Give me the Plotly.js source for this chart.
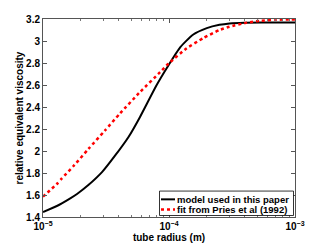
<!DOCTYPE html>
<html><head><meta charset="utf-8">
<script src="https://cdn.plot.ly/plotly-3.0.1.min.js"></script>
<style>body{margin:0;padding:0;background:#fff}#plot{width:326px;height:245px}</style>
</head><body><div id="plot"></div>
<script>
var modelLogRadius = [-5.0, -4.89, -4.79, -4.73, -4.64, -4.53, -4.43, -4.32, -4.23, -4.10, -4.005, -3.91, -3.81, -3.70, -3.60, -3.52, -3.40, -3.25, -3.0];
var modelViscosity = [1.445, 1.50, 1.565, 1.609, 1.69, 1.81, 1.955, 2.13, 2.31, 2.596, 2.778, 2.944, 3.057, 3.117, 3.147, 3.16, 3.167, 3.168, 3.168];
var priesLogRadius = [-5.0, -4.89, -4.85, -4.75, -4.64, -4.51, -4.39, -4.23, -4.07, -4.005, -3.86, -3.73, -3.60, -3.52, -3.38, -3.28, -3.15, -3.0];
var priesViscosity = [1.585, 1.70, 1.751, 1.873, 2.018, 2.184, 2.34, 2.536, 2.717, 2.793, 2.934, 3.025, 3.10, 3.13, 3.167, 3.183, 3.193, 3.196];
var seriesNames = ['model used in this paper', 'fit from Pries et al (1992)'];
var xTickVals = [1e-5, 1e-4, 1e-3];
var xTickText = ['10<sup>\u22125</sup>', '10<sup>\u22124</sup>', '10<sup>\u22123</sup>'];
function pow10(a){ return a.map(function(v){ return Math.pow(10, v); }); }
var minorVals = [];
[-5, -4].forEach(function(e){ for (var k = 2; k <= 9; k++) minorVals.push(k * Math.pow(10, e)); });
var fontB = {family: 'Liberation Sans, Arial, sans-serif', size: 10, color: '#000', weight: 'bold'};
var fontL = {family: 'Liberation Sans, Arial, sans-serif', size: 9.5, color: '#000', weight: 'bold'};
var colors = ['#000000', '#ff0000'];
var data = [
  {x: pow10(modelLogRadius), y: modelViscosity, name: seriesNames[0], type: 'scatter', mode: 'lines',
   line: {color: colors[0], width: 2, shape: 'spline', smoothing: 0.5}, showlegend: false},
  {x: pow10(priesLogRadius), y: priesViscosity, name: seriesNames[1], type: 'scatter', mode: 'lines',
   line: {color: colors[1], width: 2.5, dash: 'dot', shape: 'spline', smoothing: 0.5}, showlegend: false}
];
// compact legend box (paper coordinates)
var plotL = 43, plotR = 295, plotT = 18.5, plotB = 217, W = 326, H = 245;
function px(x){ return (x - plotL) / (plotR - plotL); }
function py(y){ return (plotB - y) / (plotB - plotT); }
var shapes = [
  {type: 'rect', xref: 'paper', yref: 'paper', x0: px(159.5), x1: px(293.5), y0: py(215.5), y1: py(191),
   line: {color: '#000', width: 0.8}, fillcolor: '#fff', layer: 'above'},
  {type: 'line', xref: 'paper', yref: 'paper', x0: px(161), x1: px(175), y0: py(199.3), y1: py(199.3),
   line: {color: colors[0], width: 2}, layer: 'above'},
  {type: 'line', xref: 'paper', yref: 'paper', x0: px(161), x1: px(175), y0: py(209.5), y1: py(209.5),
   line: {color: colors[1], width: 2.5, dash: 'dot'}, layer: 'above'}
];
var annotations = [
  {xref: 'paper', yref: 'paper', x: px(175), y: py(199.3), xanchor: 'left', yanchor: 'middle',
   text: seriesNames[0], showarrow: false, font: fontL},
  {xref: 'paper', yref: 'paper', x: px(175), y: py(209.5), xanchor: 'left', yanchor: 'middle',
   text: seriesNames[1], showarrow: false, font: fontL}
];
var layout = {
  width: W, height: H,
  margin: {l: plotL, r: W - plotR, t: plotT, b: H - plotB},
  paper_bgcolor: '#fff', plot_bgcolor: '#fff',
  showlegend: false,
  shapes: shapes, annotations: annotations,
  xaxis: {type: 'log', range: [-5, -3], tickvals: xTickVals, ticktext: xTickText,
    showgrid: false, zeroline: false, showline: true, linecolor: '#555', linewidth: 1,
    mirror: 'ticks', ticks: 'inside', ticklen: 4, tickcolor: '#555',
    tickfont: fontB,
    minor: {ticks: 'inside', ticklen: 2, tickcolor: '#777', tickvals: minorVals, showgrid: false},
    title: {text: 'tube radius (m)', font: fontB, standoff: 2}},
  yaxis: {range: [1.4, 3.2], dtick: 0.2, showgrid: false, zeroline: false,
    showline: true, linecolor: '#555', linewidth: 1, mirror: 'ticks',
    ticks: 'inside', ticklen: 4, tickcolor: '#555', tickfont: fontB,
    title: {text: 'relative equivalent viscosity', font: fontB, standoff: 0}}
};
Plotly.newPlot('plot', data, layout, {displayModeBar: false, staticPlot: true});
</script></body></html>
